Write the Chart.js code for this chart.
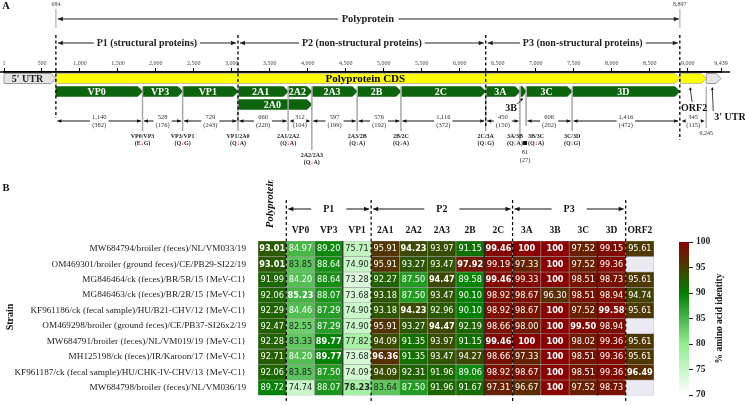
<!DOCTYPE html>
<html lang="en">
<head>
  <meta charset="UTF-8" />
  <title>Genome map and amino acid identity</title>
  <script src="https://cdn.jsdelivr.net/npm/chart.js"></script>
  <style>
    body { margin: 0; background: #fff; }
    #wrap { position: relative; width: 745px; height: 405px; overflow: hidden; }
    canvas { position: absolute; }
  </style>
</head>
<body>
  <div id="wrap">
    <canvas id="genome" width="745" height="180" style="left:0;top:0"></canvas>
    <canvas id="heat" width="745" height="225" style="left:0;top:180px"></canvas>
    <canvas id="cbar" width="105" height="175" style="left:640px;top:230px"></canvas>
  </div>

  <script>
    // ---- panel A data ----
    const genomeTicks = [1, 500, 1000, 1500, 2000, 2500, 3000, 3500, 4000, 4500, 5000, 5500, 6000, 6500, 7000, 7500, 8000, 8500, 9000, 9439];
    const genomeLength = 9439;
    const regionNames = ['5′ UTR', 'Polyprotein CDS', 'ORF2', '3′ UTR'];
    const regionStart = [1, 684, 8901, 9245];
    const regionEnd = [684, 8897, 9245, 9439];
    const proteinNames = ['VP0', 'VP3', 'VP1', '2A1', '2A2', '2A3', '2B', '2C', '3A', '3B', '3C', '3D'];
    const proteinStart = [684, 1824, 2352, 3081, 3741, 4053, 4650, 5226, 6342, 6792, 6873, 7479];
    const proteinEnd = [1824, 2352, 3081, 3741, 4053, 4650, 5226, 6342, 6792, 6873, 7479, 8895];
    const proteinNt = ['1,140', '528', '729', '660', '312', '597', '576', '1,116', '450', '81', '606', '1,416'];
    const proteinAa = ['(382)', '(176)', '(243)', '(220)', '(104)', '(199)', '(192)', '(372)', '(150)', '(27)', '(202)', '(472)'];
    const orf2Nt = '345';
    const orf2Aa = '(115)';
    const a0Name = '2A0';
    const a0Range = [3081, 4053];
    const cleavageNames = ['VP0/VP3', 'VP3/VP1', 'VP1/2A0', '2A1/2A2', '2A2/2A3', '2A3/2B', '2B/2C', '2C/3A', '3A/3B', '3B/3C', '3C/3D'];
    const cleavageLeft = ['E', 'Q', 'Q', 'Q', 'Q', 'Q', 'Q', 'Q', 'Q', 'Q', 'Q'];
    const cleavageRight = ['G', 'G', 'A', 'A', 'A', 'A', 'A', 'G', 'A', 'A', 'G'];
    const segmentNames = ['P1 (structural proteins)', 'P2 (non-structural proteins)', 'P3 (non-structural proteins)'];
    const segmentStart = [684, 3081, 6342];
    const segmentEnd = [3081, 6342, 8897];

    // ---- panel B data ----
    const columnNames = ['Polyprotein', 'VP0', 'VP3', 'VP1', '2A1', '2A2', '2A3', '2B', '2C', '3A', '3B', '3C', '3D', 'ORF2'];
    const strainNames = [
      'MW684794/broiler (feces)/NL/VM033/19',
      'OM469301/broiler (ground feces)/CE/PB29-SI22/19',
      'MG846464/ck (feces)/BR/5R/15 {MeV-C1}',
      'MG846463/ck (feces)/BR/2R/15 {MeV-C1}',
      'KF961186/ck (fecal sample)/HU/B21-CHV/12 {MeV-C1}',
      'OM469298/broiler (ground feces)/CE/PB37-SI26x2/19',
      'MW684791/broiler (feces)/NL/VM019/19 {MeV-C1}',
      'MH125198/ck (feces)/IR/Karoon/17 {MeV-C1}',
      'KF961187/ck (fecal sample)/HU/CHK-IV-CHV/13 {MeV-C1}',
      'MW684798/broiler (feces)/NL/VM036/19'
    ];
    const idMW684794 = [93.01, 84.97, 89.20, 75.71, 95.91, 94.23, 93.97, 91.15, 99.46, 100, 100, 97.52, 99.15, 95.61];
    const idOM469301 = [93.01, 83.85, 88.64, 74.90, 95.91, 93.27, 93.47, 97.92, 99.19, 97.33, 100, 97.52, 99.36, null];
    const idMG846464 = [91.99, 84.20, 88.64, 73.28, 92.27, 87.50, 94.47, 89.58, 99.46, 99.33, 100, 98.51, 98.73, 95.61];
    const idMG846463 = [92.06, 85.23, 88.07, 73.68, 93.18, 87.50, 93.47, 90.10, 98.92, 98.67, 96.30, 98.51, 98.94, 94.74];
    const idKF961186 = [92.29, 84.46, 87.29, 74.90, 93.18, 94.23, 92.96, 90.10, 98.92, 98.67, 100, 97.52, 99.58, 95.61];
    const idOM469298 = [92.47, 82.55, 87.29, 74.90, 95.91, 93.27, 94.47, 92.19, 98.66, 98.00, 100, 99.50, 98.94, null];
    const idMW684791 = [92.28, 83.33, 89.77, 77.82, 94.09, 91.35, 93.97, 91.15, 99.46, 100, 100, 98.02, 99.36, 95.61];
    const idMH125198 = [92.71, 84.20, 89.77, 73.68, 96.36, 91.35, 93.47, 94.27, 98.66, 97.33, 100, 98.51, 99.36, 95.61];
    const idKF961187 = [92.06, 83.85, 87.50, 74.09, 94.09, 92.31, 91.96, 89.06, 98.92, 98.67, 100, 98.51, 99.36, 96.49];
    const idMW684798 = [89.72, 74.74, 88.07, 78.23, 83.64, 87.50, 91.96, 91.67, 97.31, 96.67, 100, 97.52, 98.73, null];
    const identityRows = [idMW684794, idOM469301, idMG846464, idMG846463, idKF961186, idOM469298, idMW684791, idMH125198, idKF961187, idMW684798];
    const groupNames = ['P1', 'P2', 'P3'];
    const groupFirstCol = [1, 4, 9];
    const groupLastCol = [3, 8, 12];
    const colorbarTicks = [70, 75, 80, 85, 90, 95, 100];

    const SERIF = '"Liberation Serif", "DejaVu Serif", serif';
    const SANS = '"DejaVu Sans", sans-serif';
    const GREEN = '#0c640c';

    // white -> lightgreen -> green -> darkred
    const colorStops = [[70, [255, 255, 255]], [80, [144, 238, 144]], [90, [0, 128, 0]], [100, [139, 0, 0]]];
    function identityRgb(v) {
      for (let i = 1; i < colorStops.length; i++) {
        if (v <= colorStops[i][0]) {
          const [v0, c0] = colorStops[i - 1], [v1, c1] = colorStops[i];
          const t = Math.max(0, (v - v0) / (v1 - v0));
          return c0.map((c, k) => Math.round(c + (c1[k] - c) * t));
        }
      }
      return colorStops[colorStops.length - 1][1];
    }
    function luminance(rgb) {
      const f = c => { c /= 255; return c <= 0.03928 ? c / 12.92 : Math.pow((c + 0.055) / 1.055, 2.4); };
      return 0.2126 * f(rgb[0]) + 0.7152 * f(rgb[1]) + 0.0722 * f(rgb[2]);
    }

    function arrowHead(ctx, x, y, dx, dy, s) {
      const len = Math.hypot(dx, dy), ux = dx / len, uy = dy / len;
      ctx.beginPath();
      ctx.moveTo(x, y);
      ctx.lineTo(x - ux * s - uy * s * 0.45, y - uy * s + ux * s * 0.45);
      ctx.lineTo(x - ux * s + uy * s * 0.45, y - uy * s - ux * s * 0.45);
      ctx.closePath();
      ctx.fill();
    }
    function spanArrow(ctx, x1, x2, y, gapW, head) {
      const mid = (x1 + x2) / 2;
      ctx.beginPath();
      if (gapW > 0) {
        if (mid - gapW / 2 > x1 + head) {
          ctx.moveTo(x1, y); ctx.lineTo(mid - gapW / 2, y);
          ctx.moveTo(mid + gapW / 2, y); ctx.lineTo(x2, y);
        }
      } else {
        ctx.moveTo(x1, y); ctx.lineTo(x2, y);
      }
      ctx.stroke();
      arrowHead(ctx, x1, y, -1, 0, head);
      arrowHead(ctx, x2, y, 1, 0, head);
    }
    function siteText(ctx, x, y, a, b) {
      const parts = ['(' + a, '↓', b + ')'];
      const ws = parts.map(t => ctx.measureText(t).width);
      let cx = x - (ws[0] + ws[1] + ws[2]) / 2;
      ctx.textAlign = 'left';
      parts.forEach((t, i) => {
        ctx.fillStyle = i === 1 ? '#e00000' : '#222';
        ctx.fillText(t, cx, y);
        cx += ws[i];
      });
      ctx.textAlign = 'center';
    }

    // ---- panel A: genome map ----
    const genomeDecor = {
      id: 'genomeDecor',
      afterDatasetsDraw(chart) {
        const { ctx } = chart;
        const X = v => chart.scales.x.getPixelForValue(v);
        const axisY = chart.chartArea.top;
        ctx.save();
        ctx.textAlign = 'center';
        ctx.textBaseline = 'middle';

        // pointed ends on every bar
        const shapes = [];
        chart.data.datasets.forEach((ds, d) => {
          chart.getDatasetMeta(d).data.forEach((el, i) => {
            const p = el.getProps(['x', 'y', 'base', 'height'], true);
            const top = p.y - p.height / 2, bot = p.y + p.height / 2;
            const tip = Math.min(5, (p.x - p.base) * 0.6);
            ctx.fillStyle = '#fff';
            ctx.beginPath(); ctx.moveTo(p.x - tip, top - 0.5); ctx.lineTo(p.x + 0.5, top - 0.5); ctx.lineTo(p.x + 0.5, p.y); ctx.closePath(); ctx.fill();
            ctx.beginPath(); ctx.moveTo(p.x - tip, bot + 0.5); ctx.lineTo(p.x + 0.5, bot + 0.5); ctx.lineTo(p.x + 0.5, p.y); ctx.closePath(); ctx.fill();
            shapes.push({ d, i, p, top, bot, tip });
          });
        });
        // outline for the UTR / CDS shapes
        shapes.filter(s => s.d === 0).forEach(s => {
          ctx.strokeStyle = s.i === 0 || s.i === 3 ? '#8a8a8a' : '#b0b0a0';
          ctx.lineWidth = 0.8;
          ctx.beginPath();
          ctx.moveTo(s.p.base, s.top); ctx.lineTo(s.p.x - s.tip, s.top); ctx.lineTo(s.p.x, s.p.y);
          ctx.lineTo(s.p.x - s.tip, s.bot); ctx.lineTo(s.p.base, s.bot); ctx.closePath();
          ctx.stroke();
        });

        // labels inside the bars
        shapes.forEach(s => {
          const cx = (s.p.base + s.p.x - s.tip) / 2;
          if (s.d === 0 && s.i === 0) {
            ctx.font = 'bold 10px ' + SERIF; ctx.fillStyle = '#222';
            ctx.fillText(regionNames[0], cx, s.p.y + 0.5);
          } else if (s.d === 0 && s.i === 1) {
            ctx.font = 'bold 11px ' + SERIF; ctx.fillStyle = '#000';
            ctx.fillText(regionNames[1], cx, s.p.y + 0.5);
          } else if (s.d === 1 && proteinNames[s.i] !== '3B') {
            ctx.font = 'bold 10px ' + SERIF; ctx.fillStyle = '#fff';
            ctx.fillText(proteinNames[s.i], cx, s.p.y + 0.5);
          } else if (s.d === 2) {
            ctx.font = 'bold 10px ' + SERIF; ctx.fillStyle = '#fff';
            ctx.fillText(a0Name, cx, s.p.y + 0.5);
          }
        });

        // grey cleavage lines and labels
        const protTop = chart.scales.y.getPixelForValue(1) - 5;
        cleavageNames.forEach((name, i) => {
          const xb = X(proteinEnd[i]);
          const low = name === '2A2/2A3';
          let lx = xb;
          if (name === '3A/3B') lx = xb - 5;
          if (name === '3B/3C') lx = xb + 10;
          const yEnd = low ? 150 : (name === '3A/3B' ? 140 : 131);
          ctx.strokeStyle = '#a8a8a8'; ctx.lineWidth = 1.5;
          ctx.beginPath(); ctx.moveTo(xb, protTop); ctx.lineTo(xb, name === '3B/3C' ? 126 : yEnd); ctx.stroke();
          const ty = low ? 155 : 136;
          ctx.font = 'bold 6px ' + SERIF; ctx.fillStyle = '#222';
          ctx.fillText(name, lx, ty);
          siteText(ctx, lx, ty + 7.5, cleavageLeft[i], cleavageRight[i]);
        });
        // 9,245 marker
        const x9245 = X(regionStart[3]);
        ctx.strokeStyle = '#b8b8b8'; ctx.lineWidth = 1.5;
        ctx.beginPath(); ctx.moveTo(x9245, protTop); ctx.lineTo(x9245, 128); ctx.stroke();
        ctx.font = '6px ' + SERIF; ctx.fillStyle = '#333';
        ctx.fillText(regionStart[3].toLocaleString('en-US'), x9245, 133.5);

        // length arrows
        ctx.strokeStyle = '#111'; ctx.fillStyle = '#111'; ctx.lineWidth = 1;
        const drawLen = (s, e, nt, aa) => {
          ctx.font = '6.5px ' + SERIF;
          const w = Math.max(ctx.measureText(nt).width, ctx.measureText(aa).width) + 4;
          ctx.strokeStyle = '#111'; ctx.fillStyle = '#111';
          spanArrow(ctx, X(s) + 1.5, X(e) - 1.5, 121, w, 4);
          ctx.fillStyle = '#333';
          ctx.fillText(nt, (X(s) + X(e)) / 2, 117);
          ctx.fillText(aa, (X(s) + X(e)) / 2, 125.5);
        };
        proteinNames.forEach((n, i) => {
          if (n === '3B') return;
          drawLen(proteinStart[i], proteinEnd[i], proteinNt[i], proteinAa[i]);
        });
        drawLen(regionStart[2], regionEnd[2], orf2Nt, orf2Aa);
        // 3B length, written below
        const i3b = proteinNames.indexOf('3B');
        const x3b = X(proteinEnd[i3b]) - 1;
        ctx.fillStyle = '#111';
        ctx.fillRect(x3b - 2, 141, 4, 4);
        ctx.font = '6.5px ' + SERIF; ctx.fillStyle = '#333';
        ctx.fillText(proteinNt[i3b], x3b, 152);
        ctx.fillText(proteinAa[i3b], x3b, 160);

        // callouts 3B, ORF2, 3' UTR
        ctx.font = 'bold 10px ' + SERIF; ctx.fillStyle = '#111'; ctx.strokeStyle = '#111'; ctx.lineWidth = 0.8;
        const x3bc = X((proteinStart[i3b] + proteinEnd[i3b]) / 2);
        ctx.fillText('3B', x3bc - 12, 108);
        ctx.beginPath(); ctx.moveTo(x3bc - 6, 104); ctx.lineTo(x3bc, 99); ctx.stroke();
        arrowHead(ctx, x3bc, 98, 6, -5, 3);
        const xo = X(regionStart[2]) + 12;
        ctx.fillText(regionNames[2], xo + 2, 108);
        ctx.beginPath(); ctx.moveTo(xo, 102); ctx.lineTo(xo - 2, 88); ctx.stroke();
        arrowHead(ctx, xo - 2, 87, -0.15, -1, 3);
        const xu = X(regionStart[3]) + 7;
        ctx.textAlign = 'left';
        ctx.fillText(regionNames[3], xu + 1, 117);
        ctx.beginPath(); ctx.moveTo(xu, 111); ctx.lineTo(xu - 1, 88); ctx.stroke();
        arrowHead(ctx, xu - 1, 87, -0.05, -1, 3);
        ctx.textAlign = 'center';

        // polyprotein bracket
        const xp1 = X(segmentStart[0]), xp2 = X(segmentEnd[2]);
        ctx.strokeStyle = '#c0c0c0'; ctx.lineWidth = 1.5;
        ctx.beginPath(); ctx.moveTo(xp1, 9); ctx.lineTo(xp1, 28); ctx.moveTo(xp2, 9); ctx.lineTo(xp2, 28); ctx.stroke();
        ctx.font = '6px ' + SERIF; ctx.fillStyle = '#444';
        ctx.fillText(segmentStart[0].toLocaleString('en-US'), xp1, 4.5);
        ctx.fillText(segmentEnd[2].toLocaleString('en-US'), xp2, 4.5);
        ctx.font = 'bold 10.5px ' + SERIF;
        ctx.strokeStyle = '#222'; ctx.fillStyle = '#222'; ctx.lineWidth = 1.2;
        spanArrow(ctx, xp1 + 2, xp2 - 1, 19, ctx.measureText('Polyprotein').width + 8, 5);
        ctx.fillText('Polyprotein', (xp1 + xp2) / 2, 19);

        // P1 / P2 / P3
        ctx.font = 'bold 10px ' + SERIF;
        segmentNames.forEach((n, i) => {
          const a = X(segmentStart[i]) + 2, b = X(segmentEnd[i]) - 2;
          ctx.fillStyle = '#222';
          spanArrow(ctx, a, b, 43, ctx.measureText(n).width + 6, 5);
          ctx.fillText(n, (a + b) / 2, 43);
        });

        // dashed boundaries
        const bounds = [segmentStart[0], segmentStart[1], segmentStart[2], segmentEnd[2]];
        const boundEnds = [118, 123, 126, 140];
        ctx.strokeStyle = '#000'; ctx.lineWidth = 1.3; ctx.setLineDash([3, 2.5]);
        bounds.forEach((v, i) => {
          ctx.beginPath(); ctx.moveTo(X(v), 35); ctx.lineTo(X(v), boundEnds[i]); ctx.stroke();
        });
        ctx.setLineDash([]);

        // extended axis line and panel label
        ctx.strokeStyle = '#000'; ctx.lineWidth = 1.5;
        ctx.beginPath(); ctx.moveTo(0, axisY); ctx.lineTo(X(genomeLength) + 9, axisY); ctx.stroke();
        ctx.font = 'bold 10.5px ' + SERIF; ctx.fillStyle = '#111';
        ctx.fillText('A', 6, 6);
        ctx.restore();
      }
    };

    new Chart(document.getElementById('genome'), {
      type: 'bar',
      data: {
        labels: ['cds', 'prot', 'a0'],
        datasets: [
          {
            label: 'regions',
            data: regionNames.map((n, i) => ({ y: 'cds', x: [regionStart[i], regionEnd[i]] })),
            backgroundColor: ['#e4e4e4', '#ffff00', '#ffff00', '#e4e4e4']
          },
          {
            label: 'proteins',
            data: proteinNames.map((n, i) => ({ y: 'prot', x: [proteinStart[i], proteinEnd[i]] })),
            backgroundColor: GREEN
          },
          {
            label: a0Name,
            data: [{ y: 'a0', x: a0Range }],
            backgroundColor: GREEN
          }
        ]
      },
      options: {
        indexAxis: 'y',
        responsive: false,
        animation: false,
        layout: { padding: { left: 4, right: 24, top: 60, bottom: 69 } },
        datasets: { bar: { grouped: false, barThickness: 10, borderWidth: 0 } },
        plugins: { legend: { display: false }, tooltip: { enabled: false } },
        scales: {
          x: {
            type: 'linear',
            position: 'top',
            min: 1,
            max: genomeLength,
            afterBuildTicks: s => { s.ticks = genomeTicks.map(v => ({ value: v })); },
            afterFit: s => { s.height = 12; },
            ticks: {
              autoSkip: false,
              maxRotation: 0,
              padding: 1,
              color: '#444',
              font: { family: SERIF, size: 6 },
              callback: v => Number(v).toLocaleString('en-US')
            },
            grid: { drawOnChartArea: false, tickLength: 4, color: '#000', lineWidth: 1 },
            border: { color: '#000', width: 1.5 }
          },
          y: { type: 'category', display: false }
        }
      },
      plugins: [genomeDecor]
    });

    // ---- panel B: heatmap ----
    const colMax = columnNames.map((n, c) => Math.max(...identityRows.map(r => (r[c] === null ? -1 : r[c]))));

    const heatDecor = {
      id: 'heatDecor',
      afterDatasetsDraw(chart) {
        const { ctx, chartArea: a } = chart;
        const xs = chart.scales.x;
        const half = (xs.getPixelForValue(1) - xs.getPixelForValue(0)) / 2;
        const edge = c => xs.getPixelForValue(c) - half;
        ctx.save();
        ctx.textAlign = 'center';
        ctx.textBaseline = 'middle';

        // solid dividers
        ctx.strokeStyle = '#1a1a1a'; ctx.lineWidth = 1;
        [3, 8, 12].forEach(c => {
          ctx.beginPath(); ctx.moveTo(edge(c), a.top); ctx.lineTo(edge(c), a.bottom); ctx.stroke();
        });

        // cell values
        identityRows.forEach((row, r) => {
          const meta = chart.getDatasetMeta(r);
          row.forEach((v, c) => {
            if (v === null) return;
            const el = meta.data[c];
            const cy = (el.y + el.base) / 2;
            ctx.font = (v === colMax[c] ? 'bold ' : '') + '8.2px ' + SANS;
            ctx.fillStyle = luminance(identityRgb(v)) > 0.408 ? '#262626' : '#ffffff';
            ctx.fillText(v === 100 ? '100' : v.toFixed(2), el.x, cy + 0.5);
          });
        });

        // column headers
        ctx.font = 'bold 9.5px ' + SERIF; ctx.fillStyle = '#111';
        columnNames.forEach((n, c) => {
          if (c === 0) return;
          ctx.fillText(n, xs.getPixelForValue(c), 51);
        });

        // group brackets
        const gy = 29;
        ctx.strokeStyle = '#111'; ctx.fillStyle = '#111'; ctx.lineWidth = 1.1;
        ctx.font = 'bold 10px ' + SERIF;
        groupNames.forEach((g, i) => {
          const x1 = edge(groupFirstCol[i]) + 2, x2 = edge(groupLastCol[i] + 1) - 2;
          spanArrow(ctx, x1, x2, gy, ctx.measureText(g).width + 24, 5);
          ctx.fillText(g, (x1 + x2) / 2, gy);
        });
        ctx.setLineDash([3, 2.5]); ctx.lineWidth = 1.2; ctx.strokeStyle = '#000';
        [groupFirstCol[0], groupFirstCol[1], groupFirstCol[2], groupLastCol[2] + 1].forEach(c => {
          ctx.beginPath(); ctx.moveTo(edge(c), 20); ctx.lineTo(edge(c), 221); ctx.stroke();
        });
        ctx.setLineDash([]);

        // rotated Polyprotein header
        ctx.save();
        ctx.translate(xs.getPixelForValue(0) - 2, 48);
        ctx.rotate(-Math.PI / 2);
        ctx.textAlign = 'left';
        ctx.font = 'italic bold 10.5px ' + SERIF; ctx.fillStyle = '#111';
        ctx.fillText(columnNames[0], 0, 0);
        ctx.restore();

        // Strain axis title
        ctx.save();
        ctx.translate(10, 137);
        ctx.rotate(-Math.PI / 2);
        ctx.font = 'bold 10px ' + SERIF; ctx.fillStyle = '#111';
        ctx.fillText('Strain', 0, 0);
        ctx.restore();

        ctx.font = 'bold 10.5px ' + SERIF; ctx.fillStyle = '#111';
        ctx.fillText('B', 6, 8);
        ctx.restore();
      }
    };

    new Chart(document.getElementById('heat'), {
      type: 'bar',
      data: {
        labels: columnNames,
        datasets: identityRows.map((row, r) => ({
          label: strainNames[r],
          data: columnNames.map(() => [r, r + 1]),
          backgroundColor: row.map(v => (v === null ? '#eaeaf2' : 'rgb(' + identityRgb(v).join(',') + ')')),
          borderColor: 'rgba(150,150,150,0.85)',
          borderWidth: 0.6,
          borderSkipped: false,
          grouped: false,
          barPercentage: 1,
          categoryPercentage: 1
        }))
      },
      options: {
        responsive: false,
        animation: false,
        layout: { padding: { left: 0, right: 91, top: 47, bottom: 9 } },
        plugins: { legend: { display: false }, tooltip: { enabled: false } },
        scales: {
          x: {
            type: 'category',
            position: 'top',
            grid: { display: false },
            border: { display: false },
            afterFit: s => { s.height = 14; },
            ticks: { display: false }
          },
          y: {
            type: 'linear',
            min: 0,
            max: strainNames.length,
            reverse: true,
            grid: { display: false },
            border: { display: false },
            afterBuildTicks: s => { s.ticks = strainNames.map((n, i) => ({ value: i + 0.5 })); },
            afterFit: s => { s.width = 258; },
            ticks: {
              autoSkip: false,
              padding: 4,
              color: '#222',
              font: { family: SERIF, size: 9.2 },
              callback: (v, i) => strainNames[i]
            }
          }
        }
      },
      plugins: [heatDecor]
    });

    // ---- colour bar ----
    const cbarTitle = {
      id: 'cbarTitle',
      afterDraw(chart) {
        const { ctx, chartArea: a } = chart;
        ctx.save();
        ctx.translate(80, (a.top + a.bottom) / 2);
        ctx.rotate(-Math.PI / 2);
        ctx.textAlign = 'center';
        ctx.textBaseline = 'middle';
        ctx.font = 'bold 9.5px ' + SERIF; ctx.fillStyle = '#111';
        ctx.fillText('% amino acid identity', 0, 0);
        ctx.restore();
      }
    };

    new Chart(document.getElementById('cbar'), {
      type: 'bar',
      data: {
        labels: [''],
        datasets: [{
          data: [[colorbarTicks[0], colorbarTicks[colorbarTicks.length - 1]]],
          backgroundColor: c => {
            const ch = c.chart;
            if (!ch.chartArea || !ch.scales.y) return '#fff';
            const ys = ch.scales.y;
            const g = ch.ctx.createLinearGradient(0, ys.getPixelForValue(70), 0, ys.getPixelForValue(100));
            colorStops.forEach(([v, rgb]) => g.addColorStop((v - 70) / 30, 'rgb(' + rgb.join(',') + ')'));
            return g;
          },
          borderWidth: 0,
          barPercentage: 1,
          categoryPercentage: 1
        }]
      },
      options: {
        responsive: false,
        animation: false,
        layout: { padding: { left: 39, right: 0, top: 12, bottom: 10 } },
        plugins: { legend: { display: false }, tooltip: { enabled: false } },
        scales: {
          x: { display: false },
          y: {
            position: 'right',
            min: 70,
            max: 100,
            afterBuildTicks: s => { s.ticks = colorbarTicks.map(v => ({ value: v })); },
            afterFit: s => { s.width = 56; },
            grid: { drawOnChartArea: false, tickLength: 4, color: '#222' },
            border: { display: false },
            ticks: { padding: 3, color: '#222', font: { family: SERIF, size: 9.5, weight: 'bold' } }
          }
        }
      },
      plugins: [cbarTitle]
    });
  </script>
</body>
</html>
